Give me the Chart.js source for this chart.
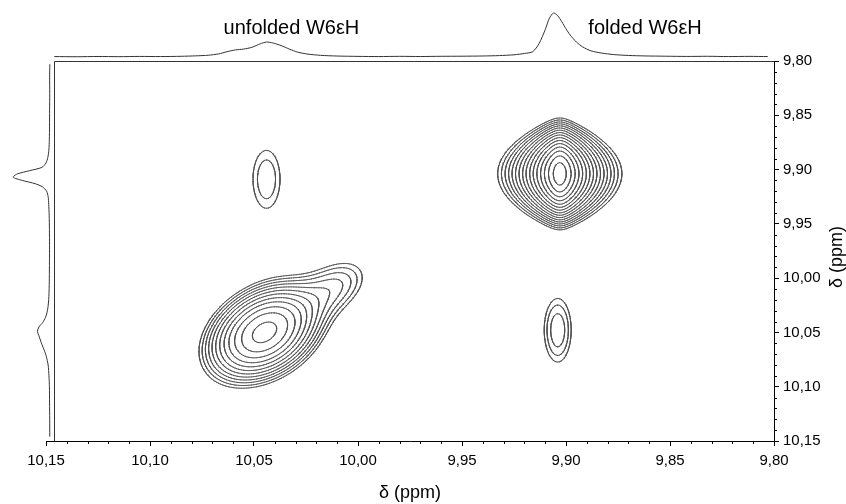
<!DOCTYPE html>
<html lang="en">
<head>
<meta charset="UTF-8">
<title>W6εH 2D spectrum</title>
<script src="https://cdn.jsdelivr.net/npm/chart.js@4"></script>
<style>
  body { margin: 0; background: #fff; }
  #chart { display: block; }
</style>
</head>
<body>
<canvas id="chart" width="846" height="504"></canvas>
<script>
// cross peaks of the 2D map, in ppm; heights in arbitrary units
const peakX      = [9.903, 10.044, 9.904, 10.0450, 10.0104];
const peakY      = [9.904, 9.909, 10.048, 10.0500, 10.0069];
const peakHeight = [100, 6.0, 7.3, 42, 7.0];
const peakWidthX = [0.0081, 0.0072, 0.0059, 0.0145, 0.0114];
const peakWidthY = [0.0203, 0.0296, 0.0267, 0.0237, 0.0185];
const peakTilt   = [0, 0, 0, 0.343, 0.371];
const peakShape  = ['cusp', 'gauss', 'gauss', 'gauss', 'gauss'];

const contourLevels = [4, 5, 6.2, 7.6, 9.3, 11.4, 14, 17.2, 21, 25.8, 31.6, 38.8, 47.6, 58.4, 71.6, 87.8];

// 1D spectrum on top (x = ppm)
const topPpm = [10.146, 10.135, 10.125, 10.115, 10.105, 10.095, 10.085, 10.078, 10.072, 10.067,
  10.063, 10.059, 10.055, 10.051, 10.047, 10.044, 10.041, 10.037, 10.033, 10.029,
  10.024, 10.018, 10.01, 10.0, 9.99, 9.98, 9.97, 9.96, 9.95, 9.94,
  9.932, 9.925, 9.92, 9.916, 9.913, 9.91, 9.908, 9.906, 9.904, 9.902,
  9.9, 9.898, 9.895, 9.892, 9.888, 9.883, 9.877, 9.87, 9.862, 9.852,
  9.842, 9.832, 9.822, 9.812, 9.803];
const topIntensity = [1.0, 0.6, 1.2, 0.8, 1.3, 1.0, 1.6, 2.6, 4.0, 7.0,
  12, 16, 18, 22, 30, 34, 32, 26, 18, 11,
  6.5, 3.8, 2.2, 1.4, 1.0, 1.5, 1.1, 1.6, 1.8, 2.3,
  3.2, 5.0, 8.0, 12, 30, 62, 88, 100, 94, 80,
  64, 50, 34, 23, 14, 9, 5.5, 3.5, 2.4, 1.8,
  1.3, 1.6, 1.0, 1.4, 1.0];

// 1D spectrum on the left (y = ppm)
const sidePpm = [9.803, 9.815, 9.83, 9.845, 9.86, 9.872, 9.882, 9.889, 9.894, 9.898,
  9.901, 9.904, 9.907, 9.910, 9.913, 9.916, 9.92, 9.925, 9.932, 9.942,
  9.955, 9.97, 9.985, 10.0, 10.012, 10.022, 10.03, 10.036, 10.041, 10.045,
  10.049, 10.053, 10.057, 10.061, 10.066, 10.072, 10.08, 10.09, 10.1, 10.115,
  10.13, 10.146];
const sideIntensity = [0.5, 1.0, 0.7, 1.1, 1.3, 1.8, 3.0, 6.0, 11, 22,
  55, 88, 100, 75, 40, 20, 9, 5, 3.5, 2.2,
  1.6, 1.2, 1.5, 1.8, 2.5, 4, 7, 12, 20, 30,
  34, 30, 26, 22, 16, 10, 5, 2.8, 1.6, 1.2,
  0.8, 0.6];

const tickValues = [10.15, 10.10, 10.05, 10.00, 9.95, 9.90, 9.85, 9.80];
const peakLabels = ['unfolded W6εH', 'folded W6εH'];
const peakLabelPpm = [10.032, 9.862];

const FONT = '"Liberation Sans", Arial, sans-serif';
const AREA = {left: 46, top: 61, right: 774, bottom: 441};
const frameLeft = 10.146;

// where the projections sit (pixels): baseline and full scale
const topBase = 57, topPeak = 13, sideBase = 50, sidePeak = 13;
const topK = (topBase - topPeak) / 100;
const yTopMin = -(AREA.bottom - topBase) / topK;
const yTopMax = yTopMin + (AREA.bottom - AREA.top) / topK;
const sideK = (sideBase - sidePeak) / 100;
const xSideMax = (sideBase - AREA.left) / sideK;
const xSideMin = xSideMax - (AREA.right - AREA.left) / sideK;

function intensity(x, y) {
  let s = 0;
  for (let i = 0; i < peakX.length; i++) {
    const u = (x - peakX[i]) / peakWidthX[i];
    const v = (y - peakY[i]) / peakWidthY[i];
    if (peakShape[i] === 'cusp') {
      // sharp (exponential) along x, gaussian along y -> diamond contours
      s += peakHeight[i] * Math.exp(0.5 - Math.sqrt(u * u + 0.25)) * Math.exp(-v * v / 2);
    } else {
      const r = peakTilt[i];
      s += peakHeight[i] * Math.exp(-(u * u - 2 * r * u * v + v * v) / (2 * (1 - r * r)));
    }
  }
  return s;
}

// sample the map and trace contours (marching squares)
const step = 0.0008;
const gx = [], gy = [];
for (let v = 9.80; v <= frameLeft + 1e-9; v += step) gx.push(v);
for (let v = 9.80; v <= 10.15 + 1e-9; v += step) gy.push(v);
const nx = gx.length, ny = gy.length;
const field = new Float64Array(nx * ny);
for (let j = 0; j < ny; j++)
  for (let i = 0; i < nx; i++) field[j * nx + i] = intensity(gx[i], gy[j]);

const CASES = [[], [[3, 0]], [[0, 1]], [[3, 1]], [[1, 2]], [[3, 0], [1, 2]], [[0, 2]], [[3, 2]],
  [[2, 3]], [[0, 2]], [[0, 1], [2, 3]], [[1, 2]], [[1, 3]], [[0, 1]], [[0, 3]], []];

function contour(level) {
  const out = [];
  for (let j = 0; j < ny - 1; j++) {
    for (let i = 0; i < nx - 1; i++) {
      const a = field[j * nx + i], b = field[j * nx + i + 1];
      const c = field[(j + 1) * nx + i + 1], d = field[(j + 1) * nx + i];
      const k = (a > level) | ((b > level) << 1) | ((c > level) << 2) | ((d > level) << 3);
      if (k === 0 || k === 15) continue;
      const edge = e => {
        if (e === 0) return {x: gx[i] + (gx[i + 1] - gx[i]) * (level - a) / (b - a), y: gy[j]};
        if (e === 1) return {x: gx[i + 1], y: gy[j] + (gy[j + 1] - gy[j]) * (level - b) / (c - b)};
        if (e === 2) return {x: gx[i] + (gx[i + 1] - gx[i]) * (level - d) / (c - d), y: gy[j + 1]};
        return {x: gx[i], y: gy[j] + (gy[j + 1] - gy[j]) * (level - a) / (d - a)};
      };
      for (const [p, q] of CASES[k]) out.push(edge(p), edge(q), {x: NaN, y: NaN});
    }
  }
  return out;
}

const datasets = contourLevels.map(level => ({
  data: contour(level),
  showLine: true,
  borderColor: '#505050',
  borderWidth: 0.9,
  borderCapStyle: 'round',
  pointRadius: 0
}));

datasets.push({
  data: topPpm.map((v, i) => ({x: v, y: topIntensity[i]})),
  yAxisID: 'yTop',
  showLine: true, clip: false, tension: 0.25,
  borderColor: '#333', borderWidth: 1, pointRadius: 0
});
datasets.push({
  data: sidePpm.map((v, i) => ({x: sideIntensity[i], y: v})),
  xAxisID: 'xSide',
  showLine: true, clip: false, tension: 0.25,
  borderColor: '#333', borderWidth: 1, pointRadius: 0
});

const fmt = v => v.toFixed(2).replace('.', ',');

const decor = {
  id: 'decor',
  afterDraw(chart) {
    const {ctx, chartArea: a, scales: {x, y}} = chart;
    ctx.save();
    ctx.strokeStyle = '#333';
    ctx.lineWidth = 1;
    // frame of the 2D panel (left and top)
    const fx = Math.round(x.getPixelForValue(frameLeft)) + 0.5;
    ctx.beginPath();
    ctx.moveTo(fx, a.bottom);
    ctx.lineTo(fx, a.top + 0.5);
    ctx.lineTo(a.right, a.top + 0.5);
    ctx.stroke();
    // minor ticks every 0.01 ppm
    ctx.strokeStyle = '#000';
    ctx.beginPath();
    for (let k = 1; k < 35; k++) {
      if (k % 5 === 0) continue;
      const v = 9.80 + k * 0.01;
      const px = Math.round(x.getPixelForValue(v)) + 0.5;
      ctx.moveTo(px, a.bottom);
      ctx.lineTo(px, a.bottom + 3);
      const py = Math.round(y.getPixelForValue(v)) + 0.5;
      ctx.moveTo(a.right, py);
      ctx.lineTo(a.right + 3, py);
    }
    ctx.stroke();
    // peak labels
    ctx.fillStyle = '#000';
    ctx.font = '20px ' + FONT;
    ctx.textAlign = 'center';
    ctx.textBaseline = 'middle';
    peakLabels.forEach((t, i) => ctx.fillText(t, x.getPixelForValue(peakLabelPpm[i]), 28));
    // right axis title, reading upwards
    ctx.translate(837, (a.top + a.bottom) / 2 + 6);
    ctx.rotate(-Math.PI / 2);
    ctx.font = '18px ' + FONT;
    ctx.fillText('δ (ppm)', 0, 0);
    ctx.restore();
  }
};

const tickOpts = {
  color: '#000',
  font: {family: FONT, size: 15},
  padding: 6,
  autoSkip: false,
  maxRotation: 0,
  callback: v => fmt(v)
};
const setTicks = s => { s.ticks = tickValues.map(v => ({value: v})); };

new Chart(document.getElementById('chart'), {
  type: 'scatter',
  data: {datasets},
  options: {
    responsive: false,
    animation: false,
    events: [],
    layout: {padding: {left: AREA.left, top: AREA.top, right: 0, bottom: 0}},
    plugins: {legend: {display: false}, tooltip: {enabled: false}},
    scales: {
      x: {
        type: 'linear', position: 'bottom', min: 9.80, max: 10.15, reverse: true,
        afterBuildTicks: setTicks,
        afterFit: s => { s.height = 504 - AREA.bottom; },
        border: {color: '#000'},
        grid: {drawOnChartArea: false, tickLength: 5, tickColor: '#000'},
        ticks: tickOpts,
        title: {display: true, text: 'δ (ppm)', color: '#000', font: {family: FONT, size: 18}, padding: {top: 0, bottom: 0}}
      },
      y: {
        type: 'linear', position: 'right', min: 9.80, max: 10.15, reverse: true,
        afterBuildTicks: setTicks,
        afterFit: s => { s.width = 846 - AREA.right; },
        border: {color: '#000'},
        grid: {drawOnChartArea: false, tickLength: 5, tickColor: '#000'},
        ticks: Object.assign({}, tickOpts, {padding: 4})
      },
      yTop: {type: 'linear', axis: 'y', position: 'left', display: false, min: yTopMin, max: yTopMax},
      xSide: {type: 'linear', axis: 'x', position: 'bottom', display: false, reverse: true, min: xSideMin, max: xSideMax}
    }
  },
  plugins: [decor]
});
</script>
</body>
</html>
